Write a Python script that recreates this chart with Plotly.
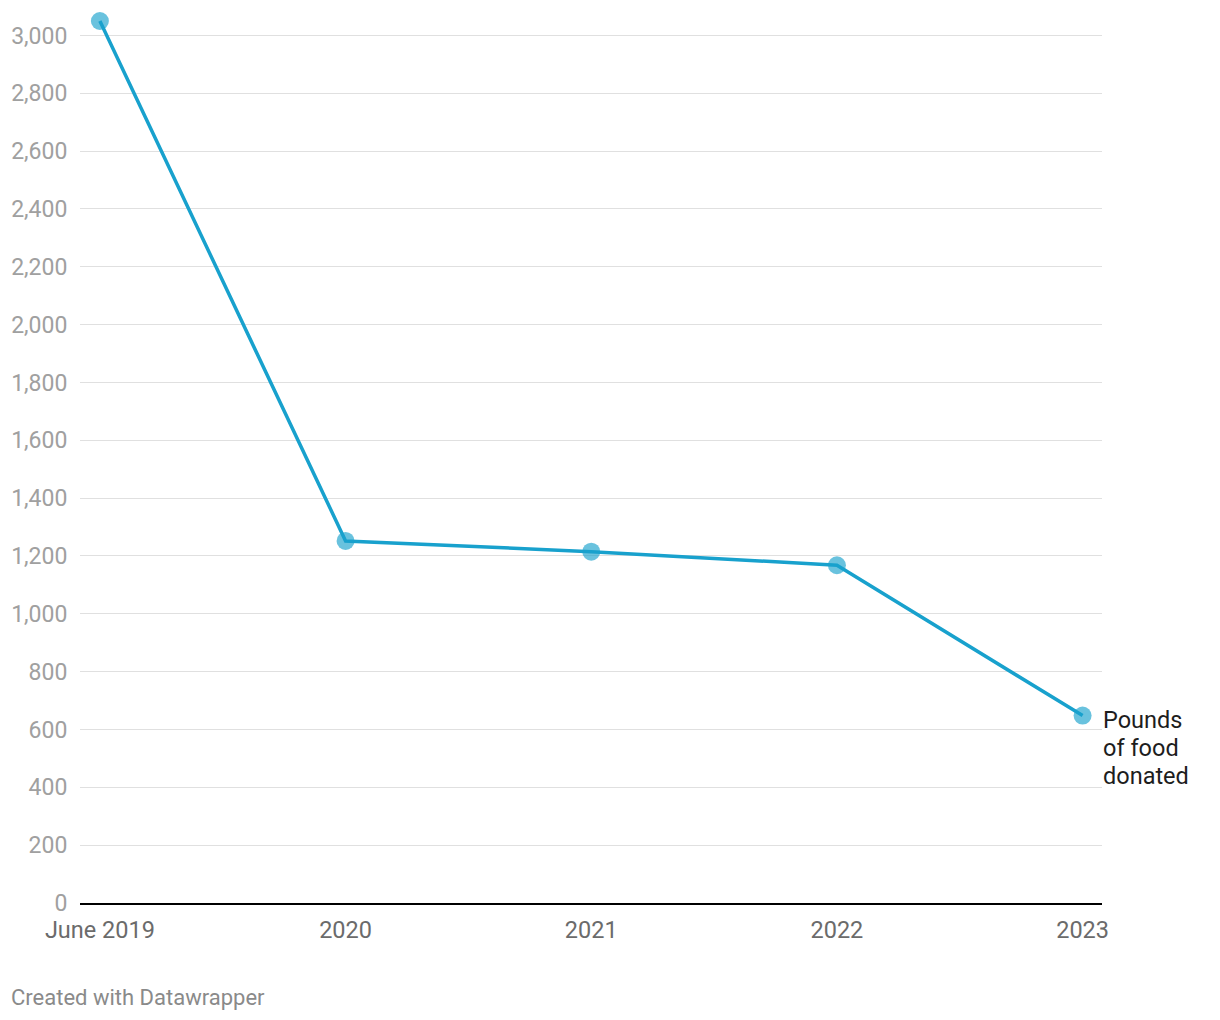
import plotly.graph_objects as go

categories = ["June 2019", "2020", "2021", "2022", "2023"]
pounds = [3050, 1252, 1215, 1168, 648]
y_ticks = [0, 200, 400, 600, 800, 1000, 1200, 1400, 1600, 1800, 2000, 2200, 2400, 2600, 2800, 3000]
label_lines = ["Pounds", "of food", "donated"]

x_idx = list(range(len(categories)))

fig = go.Figure()
fig.add_trace(go.Scatter(
    x=x_idx, y=pounds, mode="lines",
    line=dict(color="#18a1cd", width=3.5),
    hoverinfo="skip", cliponaxis=False,
))
fig.add_trace(go.Scatter(
    x=x_idx, y=pounds, mode="markers",
    marker=dict(color="rgba(24,161,205,0.65)", size=18, line=dict(width=0)),
    cliponaxis=False,
))

for i, line in enumerate(label_lines):
    fig.add_annotation(
        x=x_idx[-1], y=pounds[-1], xref="x", yref="y",
        text=line, showarrow=False,
        xanchor="left", yanchor="middle", align="left",
        xshift=18, yshift=-4 - 28 * i,
        font=dict(family="Roboto", size=23.5, color="#1d1d1d"),
    )
fig.add_annotation(
    x=0, y=0, xref="paper", yref="paper",
    text="Created with Datawrapper", showarrow=False,
    xanchor="left", yanchor="middle",
    xshift=-71, yshift=-94,
    font=dict(family="Roboto", size=22, color="#8a8a8a"),
)

fig.update_layout(
    width=1212, height=1012,
    margin=dict(l=72, r=118, t=0, b=117),
    paper_bgcolor="white", plot_bgcolor="white",
    showlegend=False,
    font=dict(family="Roboto"),
)
fig.update_xaxes(
    range=[-0.081, 4.079],
    tickvals=x_idx, ticktext=categories,
    showgrid=False, zeroline=False,
    showline=True, linecolor="#000000", linewidth=2,
    ticks="outside", ticklen=5, tickcolor="rgba(0,0,0,0)",
    tickfont=dict(family="Roboto", size=23.5, color="#6b6b6b"),
)
fig.update_yaxes(
    range=[0, 3095],
    tickvals=y_ticks, ticktext=[f"{v:,}" for v in y_ticks],
    showgrid=True, gridcolor="#e0e0e0", gridwidth=1,
    zeroline=False, showline=False,
    ticks="outside", ticklen=7, tickcolor="rgba(0,0,0,0)",
    tickfont=dict(family="Roboto", size=23, color="#a0a0a0"),
)

fig.write_html("out.html")
